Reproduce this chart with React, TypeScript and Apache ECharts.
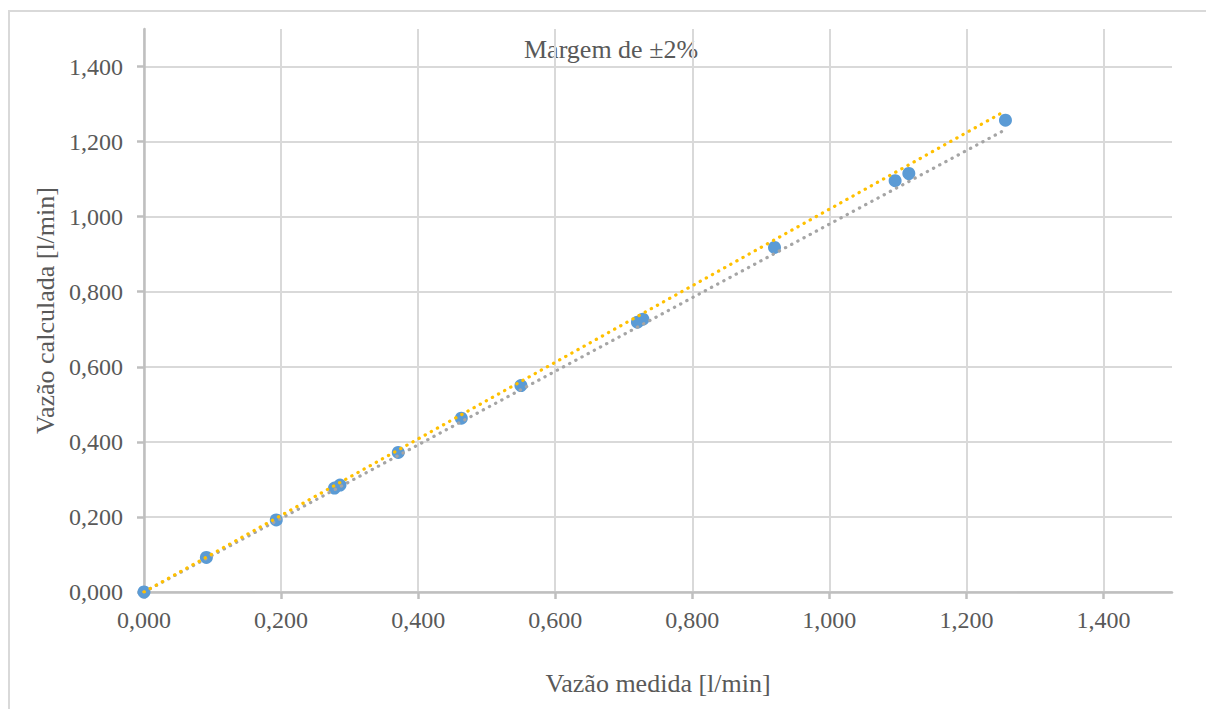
import React, { useEffect, useRef } from "react";
import * as echarts from "echarts";

// Measured vs. calculated flow rate [l/min]
const measured = [0, 0.091, 0.193, 0.278, 0.286, 0.371, 0.463, 0.55, 0.72, 0.728, 0.92, 1.096, 1.116, 1.257];
const calculated = [0, 0.092, 0.192, 0.277, 0.285, 0.372, 0.463, 0.55, 0.719, 0.727, 0.918, 1.096, 1.115, 1.257];

// ±2% margin lines (start and end points)
const upperMargin: [number, number][] = [
  [0, 0],
  [1.257, 1.282],
];
const lowerMargin: [number, number][] = [
  [0, 0],
  [1.257, 1.232],
];

const tickValues = [0, 0.2, 0.4, 0.6, 0.8, 1.0, 1.2, 1.4];

const TEXT = "#595959";
const FONT = "'Liberation Serif', 'Times New Roman', serif";

const fmt = (v: number) => v.toFixed(3).replace(".", ",");

export default function App() {
  const ref = useRef<HTMLDivElement>(null);

  useEffect(() => {
    if (!ref.current) return;
    const chart = echarts.init(ref.current, undefined, { renderer: "svg" });

    const axisCommon = (name: string, isY: boolean) => ({
      type: "value" as const,
      min: 0,
      max: 1.5,
      interval: 0.2,
      name,
      nameLocation: "middle" as const,
      nameGap: isY ? 84 : 78,
      nameTextStyle: { color: TEXT, fontFamily: FONT, fontSize: 26 },
      axisLine: { show: true, lineStyle: { color: "#bfbfbf", width: 2.5 } },
      axisTick: {
        show: true,
        length: 7,
        customValues: tickValues,
        lineStyle: { color: "#bfbfbf", width: 2.5 },
      },
      axisLabel: {
        color: TEXT,
        fontFamily: FONT,
        fontSize: 24,
        margin: isY ? 21 : 16,
        customValues: tickValues,
        formatter: (v: number) => fmt(v),
      },
      splitLine: {
        show: true,
        lineStyle: { color: "#d9d9d9", width: 2 },
      },
    });

    chart.setOption({
      animation: false,
      backgroundColor: "#ffffff",
      grid: { left: 144, right: 34, top: 29, bottom: 117, containLabel: false },
      xAxis: axisCommon("Vazão medida [l/min]", false),
      yAxis: axisCommon("Vazão calculada [l/min]", true),
      graphic: [
        {
          type: "polyline",
          shape: { points: [[9, 709], [9, 11], [1206, 11]] },
          style: { stroke: "#d9d9d9", lineWidth: 2, fill: "none" },
          silent: true,
        },
        {
          type: "text",
          x: 524,
          y: 49,
          style: {
            text: "Margem de ±2%",
            fill: TEXT,
            font: `26px ${FONT}`,
            textVerticalAlign: "middle",
          },
        },
      ],
      series: [
        {
          type: "scatter",
          name: "Vazão",
          data: measured.map((m, i) => [m, calculated[i]]),
          symbol: "circle",
          symbolSize: 13,
          itemStyle: { color: "#5b9bd5", opacity: 1 },
          z: 2,
        },
        {
          type: "line",
          name: "-2%",
          data: lowerMargin,
          symbol: "none",
          lineStyle: { color: "#a5a5a5", width: 3.2, type: [0.3, 6.7], cap: "round" },
          z: 3,
        },
        {
          type: "line",
          name: "+2%",
          data: upperMargin,
          symbol: "none",
          lineStyle: { color: "#ffc000", width: 3.2, type: [0.3, 6.7], cap: "round" },
          z: 4,
        },
      ],
    });

    return () => chart.dispose();
  }, []);

  return (
    <div
      ref={ref}
      style={{ position: "fixed", left: 0, top: 0, width: 1206, height: 709 }}
    />
  );
}
